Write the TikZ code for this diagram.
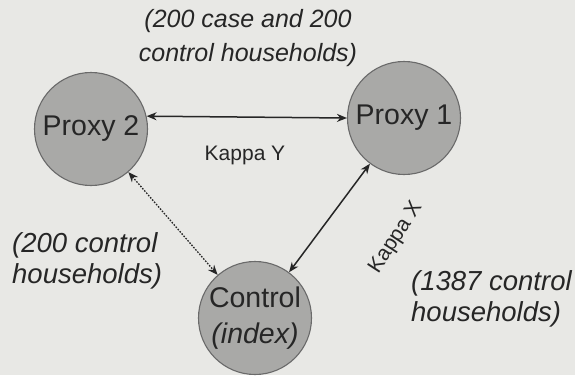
\documentclass[tikz,border=0pt]{standalone}
\usepackage{fontspec}
\setmainfont{Liberation Sans}
\usetikzlibrary{arrows.meta}
\definecolor{paper}{HTML}{E8E8E5}
\definecolor{disc}{HTML}{A9A9A7}
\definecolor{rim}{HTML}{6A6A6A}
\definecolor{ink}{HTML}{262626}

\begin{document}
\begin{tikzpicture}[x=1pt,y=-1pt]
    \tikzset{proxy/.style= {draw=rim, fill=disc, circle
    , line width=1.1pt
    , minimum size=113pt
    , inner sep=0pt
    , text=ink, align=center
    , font=\fontsize{28.5}{36}\selectfont
      },
    note/.style={text=ink, align=left, inner sep=0pt
    , font=\fontsize{27.5}{31}\selectfont\itshape
      },
    kappa/.style={text=ink, font=\fontsize{21}{24}\selectfont},
    link/.style={draw=ink, line width=1.5pt
    , {Stealth[length=10pt,width=8pt]}-{Stealth[length=10pt,width=8pt]}
      }
    }
\fill[paper] (0,0) rectangle (575,375);
\clip (0,0) rectangle (575,375);

\node [proxy] (proxy2) at (91,129) {Proxy 2};
\node [proxy] (proxy1) at (404,118) {Proxy 1};
\node [proxy] (control) at (255,318) {Control\\\textit{(index)}};

\node [note, align=center, font=\fontsize{25}{34}\selectfont\itshape] (topnote) at (248,38) {(200 case and 200\\control households)};
\node [note, anchor=west] (leftnote) at (12,261) {(200 control\\households)};
\node [note, anchor=west] (rightnote) at (411,299) {(1387 control\\households)};

\node [kappa] (kappay) at (245,155) {Kappa Y};
\node [kappa, rotate=57] (kappax) at (396,238) {Kappa X};

 \path[link]
  (proxy2.13) -- (proxy1.west);
 \path[link, line width=1.3pt, dash pattern=on 1.6pt off 1.4pt]
  (proxy2) -- (control);
 \path[link]
  (proxy1) -- (control);
\end{tikzpicture}
\end{document}
